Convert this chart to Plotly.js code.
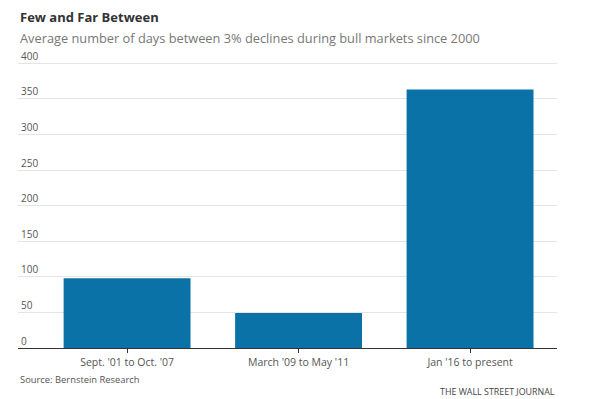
<!DOCTYPE html>
<html>
<head>
<meta charset="utf-8">
<script src="https://cdn.plot.ly/plotly-3.0.1.min.js"></script>
<style>
html,body{margin:0;padding:0;background:#fff;}
#chart{width:600px;height:399px;}
</style>
</head>
<body>
<div id="chart"></div>
<script>
const categories = ["Sept. '01 to Oct. '07", "March '09 to May '11", "Jan '16 to present"];
const avgDays = [98, 49, 363];
const yTicks = [0, 50, 100, 150, 200, 250, 300, 350, 400];

const FONT = "Open Sans, Lato, sans-serif";

const trace = {
  type: 'bar',
  x: categories,
  y: avgDays,
  marker: {color: '#0b72a7'},
  hoverinfo: 'x+y'
};

const layout = {
  width: 600,
  height: 399,
  margin: {l: 18, r: 43, t: 49, b: 51},
  paper_bgcolor: '#fff',
  plot_bgcolor: '#fff',
  bargap: 0.26,
  showlegend: false,
  font: {family: FONT, color: '#555', size: 10},
  xaxis: {
    type: 'category',
    range: [-0.636, 2.507],
    showgrid: false,
    showline: true,
    linecolor: '#333',
    linewidth: 1,
    ticks: 'outside',
    ticklen: 4,
    tickcolor: '#333',
    tickfont: {family: FONT, size: 10.5, color: '#555'},
    zeroline: false,
    fixedrange: true
  },
  yaxis: {
    range: [0, 420],
    tickmode: 'array',
    tickvals: yTicks,
    ticktext: yTicks.map(String),
    ticklabelposition: 'inside top',
    ticklabeloverflow: 'allow',
    showgrid: true,
    gridcolor: '#e4e4e4',
    gridwidth: 1,
    zeroline: false,
    showline: false,
    ticks: '',
    tickfont: {family: FONT, size: 10, color: '#555'},
    fixedrange: true
  },
  annotations: [
    {text: '<b>Few and Far Between</b>', xref: 'paper', yref: 'paper', x: 0, y: 1.107,
     xanchor: 'left', yanchor: 'middle', showarrow: false,
     font: {family: FONT, size: 13, color: '#333'}},
    {text: 'Average number of days between 3% declines during bull markets since 2000', xref: 'paper', yref: 'paper', x: 0, y: 1.037,
     xanchor: 'left', yanchor: 'middle', showarrow: false,
     font: {family: FONT, size: 12.8, color: '#777'}},
    {text: 'Source: Bernstein Research', xref: 'paper', yref: 'paper', x: 0, y: -0.104,
     xanchor: 'left', yanchor: 'middle', showarrow: false,
     font: {family: FONT, size: 9.4, color: '#555'}},
    {text: 'THE WALL STREET JOURNAL', xref: 'paper', yref: 'paper', x: 1.0, y: -0.144,
     xanchor: 'right', yanchor: 'middle', showarrow: false,
     font: {family: FONT, size: 8.9, color: '#444'}}
  ]
};

Plotly.newPlot('chart', [trace], layout, {displayModeBar: false, staticPlot: true});
</script>
</body>
</html>
